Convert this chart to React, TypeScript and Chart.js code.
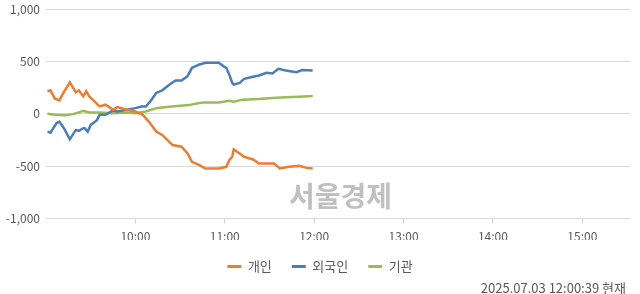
import React, { useEffect, useRef } from "react";
import { Chart, registerables } from "chart.js";

Chart.register(...registerables);

const FONT = "'Noto Sans CJK KR', 'Noto Sans', sans-serif";

const xTickLabels = ["10:00", "11:00", "12:00", "13:00", "14:00", "15:00"];
const seriesNames = ["개인", "외국인", "기관"];
const seriesColors = ["#ED7D31", "#4A7EBB", "#9BBB59"];
const watermark = "서울경제";
const timestamp = "2025.07.03 12:00:39 현재";

const personTimes = ["09:01","09:03","09:06","09:09","09:11","09:16","09:20","09:22","09:25","09:27","09:29","09:36","09:40","09:45","09:48","09:54","10:00","10:05","10:09","10:14","10:18","10:25","10:31","10:35","10:38","10:43","10:47","10:52","10:56","11:01","11:03","11:05","11:06","11:10","11:13","11:19","11:23","11:30","11:33","11:37","11:43","11:50","11:55","11:59"];
const personValues = [215,224,144,128,183,301,205,224,167,215,167,70,87,38,64,38,22,-10,-74,-170,-202,-298,-314,-378,-458,-490,-522,-522,-522,-506,-442,-410,-340,-378,-410,-436,-474,-474,-474,-522,-506,-497,-516,-522];

const foreignTimes = ["09:01","09:03","09:07","09:09","09:12","09:16","09:20","09:22","09:25","09:26","09:28","09:30","09:34","09:36","09:40","09:45","09:48","09:54","10:00","10:04","10:07","10:10","10:14","10:18","10:23","10:27","10:31","10:35","10:38","10:43","10:47","10:52","10:56","10:59","11:01","11:03","11:05","11:06","11:10","11:13","11:19","11:23","11:28","11:32","11:36","11:41","11:48","11:52","11:59"];
const foreignValues = [-170,-180,-90,-74,-138,-244,-154,-163,-138,-138,-170,-106,-64,-10,-10,32,22,38,54,70,70,118,199,224,279,317,317,359,439,471,487,487,487,455,439,375,295,279,295,333,353,365,391,385,429,413,397,417,413];

const instTimes = ["09:01","09:06","09:13","09:18","09:22","09:25","09:29","09:36","09:45","09:54","10:00","10:07","10:14","10:21","10:30","10:36","10:43","10:47","10:56","11:03","11:06","11:12","11:23","11:32","11:41","11:50","11:59"];
const instValues = [0,-10,-13,-3,13,29,13,13,6,13,6,22,54,64,77,83,103,109,109,125,115,135,141,151,157,163,170];

const toMin = (s: string) => {
  const [h, m] = s.split(":").map(Number);
  return h * 60 + m;
};
const toPoints = (times: string[], values: number[]) =>
  times.map((t, i) => ({ x: toMin(t), y: values[i] }));

export default function App() {
  const ref = useRef<HTMLCanvasElement | null>(null);

  useEffect(() => {
    if (!ref.current) return;
    const extras = {
      id: "extras",
      afterLayout(chart: any) {
        if (chart.legend) {
          chart.legend.left += 5;
          chart.legend.right += 5;
        }
      },
      beforeDatasetsDraw(chart: any) {
        const ctx = chart.ctx;
        ctx.save();
        ctx.font = `bold 28px ${FONT}`;
        ctx.fillStyle = "rgba(150,150,150,0.6)";
        ctx.textBaseline = "middle";
        ctx.textAlign = "left";
        ctx.fillText(watermark, 289, 196);
        ctx.restore();
      },
      afterDraw(chart: any) {
        const ctx = chart.ctx;
        ctx.save();
        ctx.font = `13px ${FONT}`;
        ctx.fillStyle = "#595959";
        ctx.textBaseline = "middle";
        ctx.textAlign = "right";
        ctx.fillText(timestamp, 626, 288);
        ctx.restore();
      },
    };
    const datasets = [
      toPoints(personTimes, personValues),
      toPoints(foreignTimes, foreignValues),
      toPoints(instTimes, instValues),
    ].map((data, i) => ({
      label: seriesNames[i],
      data,
      borderColor: seriesColors[i],
      backgroundColor: seriesColors[i],
      borderWidth: 2.5,
      pointRadius: 0,
      tension: 0,
    }));
    const chart = new Chart(ref.current, {
      type: "line",
      data: { datasets },
      plugins: [extras],
      options: {
        animation: false,
        responsive: true,
        maintainAspectRatio: false,
        layout: { padding: { top: 9, right: 10, bottom: 11, left: 0 } },
        scales: {
          x: {
            type: "linear",
            min: 540,
            max: 932,
            afterBuildTicks(scale: any) {
              scale.ticks = xTickLabels.map((l) => ({ value: toMin(l) }));
            },
            afterFit(scale: any) {
              scale.height = 21.4;
            },
            ticks: {
              color: "#595959",
              font: { family: FONT, size: 12 },
              padding: 6,
              maxRotation: 0,
              callback: (v: any) => {
                const h = Math.floor(v / 60);
                const m = v % 60;
                return `${h}:${String(m).padStart(2, "0")}`;
              },
            },
            grid: { drawOnChartArea: false, tickLength: 5, color: "#c9d2e3" },
            border: { display: false },
          },
          y: {
            min: -1000,
            max: 1000,
            afterFit(scale: any) {
              scale.width = 46;
              scale.paddingTop = 0;
            },
            ticks: {
              stepSize: 500,
              color: "#595959",
              font: { family: FONT, size: 12 },
              padding: 6,
              callback: (v: any) => Number(v).toLocaleString("en-US"),
            },
            grid: { color: "#d9d9d9", drawTicks: false },
            border: { display: false },
          },
        },
        plugins: {
          tooltip: { enabled: false },
          legend: {
            position: "bottom",
            labels: {
              boxWidth: 14,
              boxHeight: 3,
              padding: 20,
              color: "#595959",
              font: { family: FONT, size: 13 },
              generateLabels(chart: any) {
                return Chart.defaults.plugins.legend.labels
                  .generateLabels(chart)
                  .map((l: any) => ({ ...l, lineWidth: 0 }));
              },
            },
          },
        },
      },
    } as any);
    return () => chart.destroy();
  }, []);

  return (
    <div style={{ position: "fixed", left: 0, top: 0, width: 640, height: 294, background: "#fff" }}>
      <canvas ref={ref} />
    </div>
  );
}
